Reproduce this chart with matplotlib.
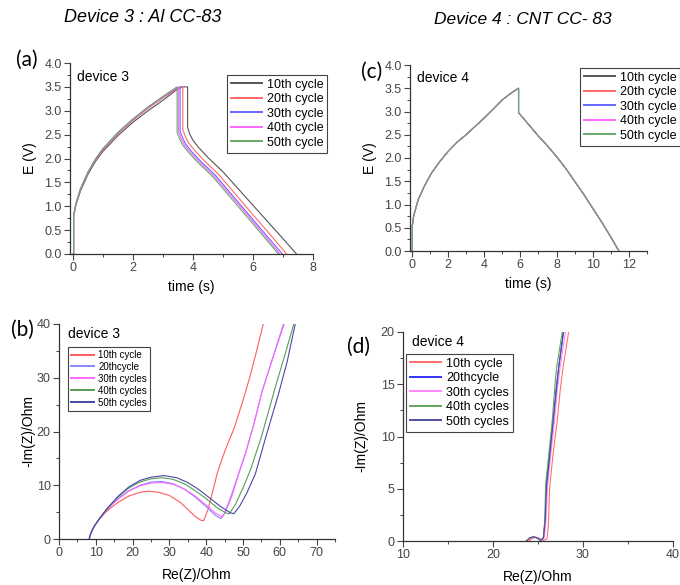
"""Charge-discharge curves and Nyquist plots for device 3 (Al CC) and device 4 (CNT CC)."""

import matplotlib
matplotlib.use("Agg")
import matplotlib.pyplot as plt
from matplotlib.ticker import MultipleLocator

plt.rcParams["font.family"] = ["Liberation Sans", "DejaVu Sans"]

# ---- (a) device 3 galvanostatic charge / discharge ----
cycle_labels = ["10th cycle", "20th cycle", "30th cycle", "40th cycle", "50th cycle"]
a_t10 = [0, 0.02, 0.02, 0.1, 0.25, 0.5, 0.75, 1.0, 1.5, 2.0, 2.5, 3.0, 3.5, 3.6, 3.82,
         3.82, 3.9, 4.0, 4.2, 4.5, 5.0, 5.5, 6.0, 6.5, 7.0, 7.45]
a_e10 = [0, 0, 0.8, 1.03, 1.32, 1.67, 1.94, 2.15, 2.48, 2.76, 3.0, 3.22, 3.46, 3.5, 3.5,
         2.65, 2.5, 2.38, 2.22, 2.02, 1.72, 1.37, 1.02, 0.67, 0.32, 0]
a_t20 = [0, 0.02, 0.02, 0.1, 0.25, 0.5, 0.75, 1.0, 1.5, 2.0, 2.5, 3.0, 3.4, 3.66,
         3.66, 3.75, 3.85, 4.05, 4.35, 4.85, 5.5, 6.0, 6.5, 7.12]
a_e20 = [0, 0, 0.8, 1.05, 1.35, 1.7, 1.97, 2.18, 2.52, 2.8, 3.05, 3.27, 3.43, 3.5,
         2.6, 2.45, 2.33, 2.17, 1.97, 1.67, 1.19, 0.82, 0.46, 0]
a_t30 = [0, 0.02, 0.02, 0.1, 0.25, 0.5, 0.75, 1.0, 1.5, 2.0, 2.5, 3.0, 3.35, 3.57,
         3.57, 3.66, 3.76, 3.96, 4.26, 4.76, 5.5, 6.0, 6.5, 6.98]
a_e30 = [0, 0, 0.8, 1.05, 1.36, 1.71, 1.98, 2.2, 2.54, 2.82, 3.07, 3.29, 3.43, 3.5,
         2.57, 2.42, 2.3, 2.14, 1.94, 1.64, 1.09, 0.72, 0.35, 0]
a_t40 = [0, 0.02, 0.02, 0.1, 0.25, 0.5, 0.75, 1.0, 1.5, 2.0, 2.5, 3.0, 3.3, 3.52,
         3.52, 3.61, 3.71, 3.91, 4.21, 4.71, 5.5, 6.0, 6.5, 6.9]
a_e40 = [0, 0, 0.8, 1.05, 1.36, 1.71, 1.98, 2.2, 2.54, 2.82, 3.07, 3.29, 3.42, 3.5,
         2.56, 2.41, 2.29, 2.13, 1.93, 1.63, 1.05, 0.68, 0.3, 0]
a_t50 = [0, 0.02, 0.02, 0.1, 0.25, 0.5, 0.75, 1.0, 1.5, 2.0, 2.5, 3.0, 3.25, 3.47,
         3.47, 3.56, 3.66, 3.86, 4.16, 4.66, 5.5, 6.0, 6.5, 6.85]
a_e50 = [0, 0, 0.8, 1.06, 1.37, 1.72, 1.99, 2.21, 2.55, 2.83, 3.08, 3.3, 3.41, 3.5,
         2.55, 2.4, 2.28, 2.12, 1.92, 1.62, 1.0, 0.63, 0.26, 0]

# ---- (c) device 4 galvanostatic charge / discharge (cycles overlap) ----
c_time = [0, 0.03, 0.03, 0.1, 0.35, 0.7, 1.08, 1.5, 2.0, 2.5, 3.0, 3.5, 4.0, 4.5, 5.0,
          5.5, 5.9, 5.9, 6.0, 6.5, 7.0, 7.5, 8.0, 8.5, 9.0, 9.5, 10.0, 10.5, 11.0, 11.45]
c_volt = [0, 0, 0.55, 0.75, 1.1, 1.4, 1.67, 1.9, 2.14, 2.34, 2.5, 2.68, 2.86, 3.05, 3.25,
          3.4, 3.5, 2.97, 2.93, 2.7, 2.47, 2.26, 2.03, 1.78, 1.5, 1.22, 0.92, 0.62, 0.3, 0]

# ---- (b) device 3 Nyquist ----
eis_labels = ["10th cycle", "20thcycle", "30th cycles", "40th cycles", "50th cycles"]
b_re10 = [8.2, 8.6, 9.5, 11, 13, 16, 19, 22, 24.5, 27, 30, 33, 35, 37, 38.5, 39.3,
          40.5, 42, 43, 44, 45, 46, 47.6, 50, 51.8, 53.7, 55.5]
b_im10 = [0, 1, 2.3, 3.7, 5.2, 6.8, 8, 8.7, 8.9, 8.7, 8.1, 6.8, 5.5, 4.2, 3.5, 3.4,
          5.5, 9.5, 12.2, 14.3, 16.2, 18, 20.6, 25.8, 30, 35, 40]
b_re20 = [8.2, 8.6, 9.5, 11, 13, 16, 19, 22, 25, 28, 31, 34, 37, 40, 42.5, 44,
          45, 46.5, 49, 50.7, 53, 55.2, 58, 61]
b_im20 = [0, 1, 2.3, 3.8, 5.5, 7.5, 9, 10, 10.6, 10.7, 10.3, 9.3, 7.8, 6, 4.4, 3.8,
          4.8, 7.5, 12.5, 16, 21.5, 27.5, 33.5, 40]
b_re30 = [8.2, 8.6, 9.5, 11, 13, 16, 19, 22, 25, 28, 31, 34, 37, 40, 42.5, 44.4,
          45.5, 47, 49, 50.7, 53, 55.2, 58, 61.2]
b_im30 = [0, 1, 2.3, 3.8, 5.5, 7.4, 8.9, 9.9, 10.4, 10.5, 10.2, 9.3, 8, 6.3, 4.8, 4.1,
          5.5, 8, 12.5, 16, 21.5, 27.5, 33.5, 40]
b_re40 = [8.2, 8.6, 9.5, 11, 13, 16, 19, 22, 25, 28, 31, 34, 37, 40, 43, 45.5, 46.3,
          48, 50, 52, 55, 58.8, 61.5, 63.8]
b_im40 = [0, 1, 2.3, 3.8, 5.6, 7.8, 9.5, 10.6, 11.2, 11.4, 11.1, 10.3, 9, 7.5, 5.8, 4.8, 4.7,
          6.5, 9.5, 12.8, 19, 28.3, 34.5, 40]
b_re50 = [8.2, 8.6, 9.5, 11, 13, 16, 19, 22, 25, 28.5, 32, 35, 38, 41, 44, 46.5, 47.5,
          49, 51, 53.4, 56, 59.7, 62, 64.2]
b_im50 = [0, 1, 2.3, 3.8, 5.6, 7.9, 9.7, 10.9, 11.5, 11.8, 11.4, 10.5, 9.2, 7.6, 6, 4.9, 4.7,
          6, 8.5, 12.2, 18.5, 27.1, 33, 40]

# ---- (d) device 4 Nyquist ----
d_re10 = [24.0, 24.4, 24.8, 25.2, 25.6, 26.0, 26.15, 26.3, 26.7, 27.15, 27.45, 27.75, 28.4]
d_im10 = [0, 0.25, 0.35, 0.25, 0.05, 0.2, 1.5, 5.2, 8.5, 11.6, 14.3, 16.4, 20]
d_re20 = [23.7, 24.1, 24.5, 24.9, 25.3, 25.6, 25.8, 25.9, 26.3, 26.7, 27.0, 27.3, 27.8]
d_im20 = [0, 0.3, 0.4, 0.3, 0.05, 0.3, 2.0, 5.2, 8.5, 11.6, 14.5, 16.6, 20]
d_re30 = [23.8, 24.2, 24.6, 25.0, 25.4, 25.7, 25.9, 26.05, 26.45, 26.85, 27.15, 27.45, 28.05]
d_im30 = [0, 0.3, 0.4, 0.3, 0.05, 0.3, 2.0, 5.2, 8.5, 11.6, 14.5, 16.6, 20]
d_re40 = [23.7, 24.1, 24.5, 24.9, 25.3, 25.6, 25.75, 25.85, 26.25, 26.6, 26.95, 27.1, 27.7]
d_im40 = [0, 0.3, 0.4, 0.3, 0.05, 0.3, 2.0, 5.4, 8.7, 11.7, 15.6, 16.8, 20]
d_re50 = [23.7, 24.1, 24.5, 24.9, 25.3, 25.6, 25.8, 25.95, 26.35, 26.7, 27.05, 27.3, 27.85]
d_im50 = [0, 0.3, 0.4, 0.3, 0.05, 0.3, 2.0, 5.2, 8.5, 11.6, 14.5, 16.6, 20]

gcd_colors = ["#555555", "#ff6666", "#6666ff", "#ff66ff", "#66aa66"]
b_colors = ["#ff5c5c", "#8888ff", "#ff66ff", "#55a055", "#4848a8"]
d_colors = ["#ff7070", "#3333ff", "#ff88ff", "#60a860", "#5050a0"]

TICK_C = "#444444"


def style_axes(ax, xmaj, xmin, ymaj, ymin):
    for side in ("top", "right"):
        ax.spines[side].set_visible(False)
    for side in ("left", "bottom"):
        ax.spines[side].set_color("#333333")
        ax.spines[side].set_linewidth(0.9)
    ax.xaxis.set_major_locator(MultipleLocator(xmaj))
    ax.xaxis.set_minor_locator(MultipleLocator(xmin))
    ax.yaxis.set_major_locator(MultipleLocator(ymaj))
    ax.yaxis.set_minor_locator(MultipleLocator(ymin))
    ax.tick_params(which="major", direction="out", length=4, width=0.8,
                   color=TICK_C, labelcolor=TICK_C, labelsize=9, pad=2)
    ax.tick_params(which="minor", direction="out", length=2.5, width=0.7, color=TICK_C)


def add_legend(ax, fig, x, y, labels, fontsize, handlelength):
    leg = ax.legend(labels, loc="upper left", bbox_to_anchor=(x, y),
                    bbox_transform=fig.transFigure, borderaxespad=0,
                    fontsize=fontsize, handlelength=handlelength,
                    labelspacing=0.2, handletextpad=0.4, borderpad=0.3,
                    fancybox=False, framealpha=1, edgecolor="#444444")
    leg.get_frame().set_linewidth(0.8)
    for h in leg.get_lines():
        h.set_linewidth(1.4)
    return leg


fig = plt.figure(figsize=(6.8, 5.85), dpi=100)
W, H = 680.0, 585.0


def px_axes(left, top, right, bottom):
    return fig.add_axes([left / W, 1 - bottom / H, (right - left) / W, (bottom - top) / H])


# (a)
ax_a = px_axes(70, 63, 313, 254)
for t, e, col in zip([a_t10, a_t20, a_t30, a_t40, a_t50],
                     [a_e10, a_e20, a_e30, a_e40, a_e50], gcd_colors):
    ax_a.plot(t, e, color=col, lw=0.8)
ax_a.set_xlim(-0.1, 8)
ax_a.set_ylim(0, 4)
style_axes(ax_a, 2, 1, 0.5, 0.25)
ax_a.yaxis.set_major_formatter(lambda v, p: f"{v:.1f}")
ax_a.set_xlabel("time (s)", fontsize=10, labelpad=4)
ax_a.set_ylabel("E (V)", fontsize=10, labelpad=5)
ax_a.text(7 / 243, 0.965, "device 3", transform=ax_a.transAxes, fontsize=10,
          va="top", ha="left")
add_legend(ax_a, fig, 227 / W, 1 - 75 / H, cycle_labels, 9, 2.5)

# (c)
ax_c = px_axes(410, 65, 647, 251)
for col in gcd_colors:
    ax_c.plot(c_time, c_volt, color=col, lw=0.8)
ax_c.set_xlim(-0.1, 13)
ax_c.set_ylim(0, 4)
style_axes(ax_c, 2, 1, 0.5, 0.25)
ax_c.yaxis.set_major_formatter(lambda v, p: f"{v:.1f}")
ax_c.set_xlabel("time (s)", fontsize=10, labelpad=4)
ax_c.set_ylabel("E (V)", fontsize=10, labelpad=5)
ax_c.text(7 / 237, 0.97, "device 4", transform=ax_c.transAxes, fontsize=10,
          va="top", ha="left")
add_legend(ax_c, fig, 580 / W, 1 - 68 / H, cycle_labels, 9, 2.5)

# (b)
ax_b = px_axes(59, 324, 335, 539)
for re, im, col in zip([b_re10, b_re20, b_re30, b_re40, b_re50],
                       [b_im10, b_im20, b_im30, b_im40, b_im50], b_colors):
    ax_b.plot(re, im, color=col, lw=0.8)
ax_b.set_xlim(0, 75)
ax_b.set_ylim(0, 40)
style_axes(ax_b, 10, 5, 10, 5)
ax_b.set_xlabel("Re(Z)/Ohm", fontsize=10, labelpad=6)
ax_b.set_ylabel("-Im(Z)/Ohm", fontsize=10, labelpad=1)
ax_b.text(9 / 276, 0.985, "device 3", transform=ax_b.transAxes, fontsize=10,
          va="top", ha="left")
add_legend(ax_b, fig, 68 / W, 1 - 347 / H, eis_labels, 7, 2.4)

# (d)
ax_d = px_axes(403, 332, 673, 541)
for re, im, col in zip([d_re10, d_re20, d_re30, d_re40, d_re50],
                       [d_im10, d_im20, d_im30, d_im40, d_im50], d_colors):
    ax_d.plot(re, im, color=col, lw=0.8)
ax_d.set_xlim(10, 40)
ax_d.set_ylim(0, 20)
style_axes(ax_d, 10, 5, 5, 2.5)
ax_d.set_xlabel("Re(Z)/Ohm", fontsize=10, labelpad=6)
ax_d.set_ylabel("-Im(Z)/Ohm", fontsize=10, labelpad=9)
ax_d.text(9 / 270, 0.985, "device 4", transform=ax_d.transAxes, fontsize=10,
          va="top", ha="left")
add_legend(ax_d, fig, 406 / W, 1 - 354 / H, eis_labels, 9, 2.5)

# panel letters and column titles
for lx, ly, s in [(27, 60, "(a)"), (22, 330, "(b)"), (372, 72, "(c)"), (358, 347, "(d)")]:
    fig.text(lx / W, 1 - ly / H, s, fontsize=15, ha="center", va="center",
             family=["Lato", "DejaVu Sans"])
fig.text(143 / W, 1 - 17 / H, "Device 3 : Al CC-83", fontsize=13, style="italic",
         ha="center", va="center")
fig.text(523 / W, 1 - 20 / H, "Device 4 : CNT CC- 83", fontsize=12.5, style="italic",
         ha="center", va="center")

fig.savefig("out.png", dpi=100)
